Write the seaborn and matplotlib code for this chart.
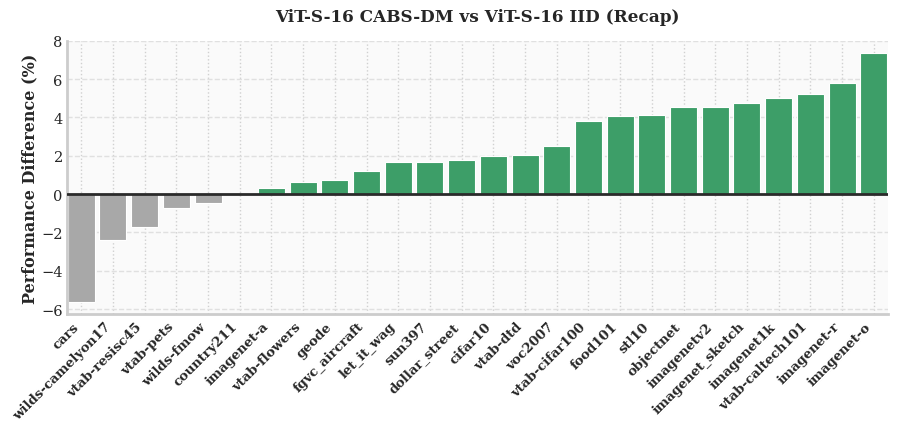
import matplotlib
matplotlib.use("Agg")
import matplotlib.pyplot as plt
import seaborn as sns
import pandas as pd

datasets = ["cars", "wilds-camelyon17", "vtab-resisc45", "vtab-pets", "wilds-fmow",
            "country211", "imagenet-a", "vtab-flowers", "geode", "fgvc_aircraft",
            "let_it_wag", "sun397", "dollar_street", "cifar10", "vtab-dtd", "voc2007",
            "vtab-cifar100", "food101", "stl10", "objectnet", "imagenetv2",
            "imagenet_sketch", "imagenet1k", "vtab-caltech101", "imagenet-r", "imagenet-o"]
diffs = [-5.61, -2.37, -1.71, -0.72, -0.46, 0.0, 0.31, 0.63, 0.71, 1.20,
         1.65, 1.67, 1.80, 2.00, 2.03, 2.50, 3.84, 4.10, 4.13, 4.52, 4.56,
         4.73, 4.99, 5.20, 5.79, 7.35]

title = "ViT-S-16 CABS-DM vs ViT-S-16 IID (Recap)"
ylabel = "Performance Difference (%)"

df = pd.DataFrame({"dataset": datasets, "diff": diffs})
pos_color = "#3d9e68"
neg_color = "#a8a8a8"
colors = {d: (pos_color if v > 0 else neg_color) for d, v in zip(datasets, diffs)}

sns.set_style("whitegrid")
plt.rcParams["font.family"] = ["DejaVu Serif"]

fig, ax = plt.subplots(figsize=(8.97, 4.31), dpi=100)
fig.subplots_adjust(left=0.0747, right=0.99, top=0.903, bottom=0.269)
ax.set_facecolor("#fafafa")

sns.barplot(data=df, x="dataset", y="diff", hue="dataset", palette=colors,
            legend=False, width=0.85, edgecolor="white", linewidth=0.8, ax=ax,
            order=datasets, saturation=1)
ax.axhline(0, color="#2a2a2a", linewidth=2, zorder=3)

ax.grid(axis="y", linestyle="--", color="#e0e0e0", linewidth=1)
ax.grid(axis="x", linestyle=":", color="#d0d0d0", linewidth=1)
ax.set_axisbelow(True)

ax.set_xlim(-0.45, len(datasets) - 0.55)
ax.set_ylim(-6.26, 8.0)
ax.set_yticks([-6, -4, -2, 0, 2, 4, 6, 8])
ax.set_xlabel("")
ax.set_ylabel(ylabel, fontsize=11.5, fontweight="bold", labelpad=2)
ax.set_title(title, fontsize=12.2, fontweight="bold", pad=14.5)
ax.tick_params(axis="y", labelsize=10.5, left=False, length=0, pad=3)
ax.tick_params(axis="x", labelsize=9.5, bottom=False, length=0, pad=4)
for lab in ax.get_xticklabels():
    lab.set_rotation(45)
    lab.set_ha("right")
    lab.set_fontweight("bold")

for side in ["top", "right"]:
    ax.spines[side].set_visible(False)
for side in ["left", "bottom"]:
    ax.spines[side].set_color("#cccccc")
    ax.spines[side].set_linewidth(2)

fig.savefig("out.png", dpi=100)
